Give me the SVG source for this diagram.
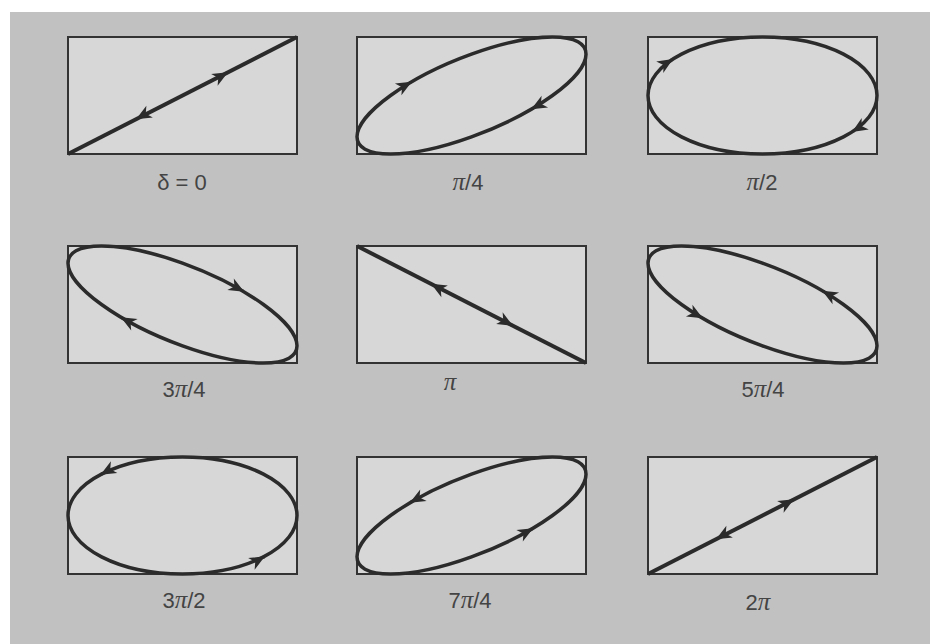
<svg xmlns="http://www.w3.org/2000/svg" width="930" height="644" viewBox="0 0 930 644">
<style>
.frame{fill:#d7d7d7;stroke:#333;stroke-width:2}
.curve{fill:none;stroke:#2b2b2b;stroke-width:3.5;vector-effect:non-scaling-stroke}
.line{stroke-width:4}
.arr{fill:none;stroke:#2b2b2b;stroke-width:3;marker-end:url(#ah)}
.lbl{font-family:"Liberation Sans",Arial,sans-serif;font-size:22px;fill:#444;text-anchor:middle}
.pi{font-style:italic;font-family:"Liberation Serif","Times New Roman",serif;font-size:25px}
</style>
<defs>
<marker id="ah" markerUnits="userSpaceOnUse" markerWidth="20" markerHeight="20" refX="0" refY="0" viewBox="-16 -8 18 16" orient="auto" overflow="visible">
<path d="M1,0 L-13,-6 L-9,0 L-13,6 Z" fill="#2b2b2b"/>
</marker>
</defs>
<rect x="0" y="0" width="930" height="644" fill="#ffffff"/>
<rect x="10" y="12" width="920" height="632" fill="#c1c1c1"/>

<g id="p1">
<rect class="frame" x="68" y="37" width="229" height="117"/>
<path class="curve line" d="M68,154 L297,37"/>
<text class="lbl" x="182" y="190">δ = 0</text>
</g>
<g id="p2">
<rect class="frame" x="357" y="37" width="229" height="117"/>
<circle class="curve" cx="0" cy="0" r="1" transform="matrix(114.5,-41.366,0,-41.366,471.5,95.5)"/>
<text class="lbl" x="468" y="190"><tspan class="pi">π</tspan>/4</text>
</g>
<g id="p3">
<rect class="frame" x="648" y="37" width="229" height="117"/>
<ellipse class="curve" cx="762.5" cy="95.5" rx="114.5" ry="58.5"/>
<text class="lbl" x="762" y="190"><tspan class="pi">π</tspan>/2</text>
</g>

<g id="p4">
<rect class="frame" x="68" y="246" width="229" height="117"/>
<circle class="curve" cx="0" cy="0" r="1" transform="matrix(-114.5,-41.366,0,-41.366,182.5,304.5)"/>
<text class="lbl" x="184" y="397">3<tspan class="pi">π</tspan>/4</text>
</g>
<g id="p5">
<rect class="frame" x="357" y="246" width="229" height="117"/>
<path class="curve line" d="M357,246 L586,363"/>
<text class="lbl" x="450" y="390"><tspan class="pi">π</tspan></text>
</g>
<g id="p6">
<rect class="frame" x="648" y="246" width="229" height="117"/>
<circle class="curve" cx="0" cy="0" r="1" transform="matrix(-114.5,-41.366,0,-41.366,762.5,304.5)"/>
<text class="lbl" x="763" y="397">5<tspan class="pi">π</tspan>/4</text>
</g>

<g id="p7">
<rect class="frame" x="68" y="457" width="229" height="117"/>
<ellipse class="curve" cx="182.5" cy="515.5" rx="114.5" ry="58.5"/>
<text class="lbl" x="184" y="608">3<tspan class="pi">π</tspan>/2</text>
</g>
<g id="p8">
<rect class="frame" x="357" y="457" width="229" height="117"/>
<circle class="curve" cx="0" cy="0" r="1" transform="matrix(114.5,-41.366,0,-41.366,471.5,515.5)"/>
<text class="lbl" x="470" y="608">7<tspan class="pi">π</tspan>/4</text>
</g>
<g id="p9">
<rect class="frame" x="648" y="457" width="229" height="117"/>
<path class="curve line" d="M648,574 L877,457"/>
<text class="lbl" x="758" y="610">2<tspan class="pi">π</tspan></text>
</g>

<g id="connectors">
<path class="arr" d="M226.1,73.3 L227,72.8"/>
<path class="arr" d="M137.9,118.2 L137,118.7"/>
<path class="arr" d="M409.9,82.8 L410.8,82.3"/>
<path class="arr" d="M533.1,108.2 L532.2,108.7"/>
<path class="arr" d="M671.2,60.1 L672,59.6"/>
<path class="arr" d="M853.8,130.9 L853,131.4"/>
<path class="arr" d="M242.3,290.8 L243.2,291.3"/>
<path class="arr" d="M122.7,318.2 L121.8,317.7"/>
<path class="arr" d="M432.9,284.8 L432,284.3"/>
<path class="arr" d="M511.1,324.7 L512,325.2"/>
<path class="arr" d="M824.1,291.8 L823.2,291.3"/>
<path class="arr" d="M700.9,317.2 L701.8,317.7"/>
<path class="arr" d="M102.4,473.6 L101.5,474.1"/>
<path class="arr" d="M263.1,557.4 L264,556.9"/>
<path class="arr" d="M411.7,501.8 L410.8,502.3"/>
<path class="arr" d="M531.3,529.2 L532.2,528.7"/>
<path class="arr" d="M792.1,500.4 L793,499.9"/>
<path class="arr" d="M717.9,538.2 L717,538.7"/>
</g>
</svg>
